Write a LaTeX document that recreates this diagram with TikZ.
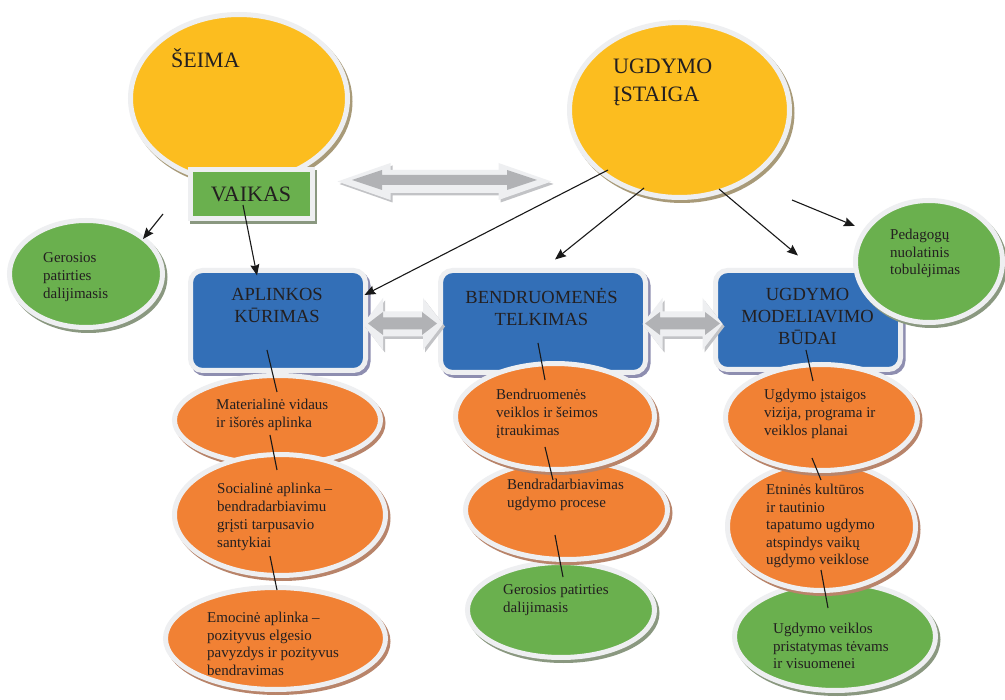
\documentclass[tikz,border=0pt]{standalone}
\usepackage{fontspec}
\setmainfont{Liberation Serif}
\usetikzlibrary{shapes.geometric,arrows.meta}
\definecolor{ylw}{HTML}{FCBD1F}
\definecolor{orng}{HTML}{F18134}
\definecolor{grn}{HTML}{6AB04E}
\definecolor{blu}{HTML}{336FB7}
\definecolor{bordc}{HTML}{EEEFF1}
\definecolor{arrg}{HTML}{B1B2B5}
\definecolor{txtc}{HTML}{231F20}
\definecolor{shy}{HTML}{A89A78}
\definecolor{sho}{HTML}{B8846A}
\definecolor{shg}{HTML}{8A9880}
\definecolor{shb}{HTML}{8E8EB0}
\definecolor{sha}{HTML}{C2C3C6}
\newcommand\myDA[7]{%
  \path[#1] (#2-#4,#3) -- (#2-#4+#7,#3-#6) -- (#2-#4+#7,#3-#5) -- (#2+#4-#7,#3-#5)
    -- (#2+#4-#7,#3-#6) -- (#2+#4,#3) -- (#2+#4-#7,#3+#6) -- (#2+#4-#7,#3+#5)
    -- (#2-#4+#7,#3+#5) -- (#2-#4+#7,#3+#6) -- cycle;}
\begin{document}
\begin{tikzpicture}[x=1pt,y=-1pt,
  bord/.style={draw=bordc, line width=5pt},
  shad/.style={preaction={fill=#1, draw=#1, line width=5pt, transform canvas={shift={(2.5pt,-3pt)}}}},
  ell/.style={ellipse, inner sep=0pt, bord},
  bigell/.style={ell, fill=ylw, shad=shy},
  orell/.style={ell, fill=orng, shad=sho},
  grell/.style={ell, fill=grn, shad=shg},
  bbox/.style={rectangle, rounded corners=12pt, fill=blu, bord, shad=shb, inner sep=0pt},
  txt/.style={anchor=north west, yshift=9pt, execute at begin node={\rule{0pt}{13pt}}, align=left, inner sep=0pt, font=\fontsize{15}{18}\selectfont, text=txtc},
  btxt/.style={anchor=north, yshift=13pt, execute at begin node={\rule{0pt}{18pt}}, align=center, inner sep=0pt, font=\fontsize{18.5}{22}\selectfont, text=txtc},
  bigtxt/.style={anchor=north west, yshift=21pt, execute at begin node={\rule{0pt}{21pt}}, align=left, inner sep=0pt, font=\fontsize{22}{28}\selectfont, text=txtc},
  conn/.style={line width=1.1pt, draw=black!90},
  arr/.style={conn, -{Stealth[length=11pt,width=9pt,inset=1.5pt]}}
]
\useasboundingbox (0,0) rectangle (1005,700);
\fill[white] (0,0) rectangle (1005,700);

% top ellipses
\node[bigell, minimum width=217pt, minimum height=168pt] (seima) at (239,98.5) {};
\node[bigell, minimum width=220pt, minimum height=175pt] (ugd) at (679.5,110) {};

% VAIKAS
\node[rectangle, fill=grn, bord, shad=shg, minimum width=122pt, minimum height=49pt, inner sep=0pt,
      font=\fontsize{22}{26}\selectfont, text=txtc] (vaikas) at (251,194.5) {VAIKAS};

% big double arrow
\myDA{fill=bordc, preaction={fill=sha, transform canvas={shift={(2pt,-2.5pt)}}}}{444.5}{181.5}{107}{11.5}{18.5}{53}
\myDA{fill=arrg}{444.5}{180}{92.5}{5}{10}{30}

% green side ellipse
\node[grell, minimum width=153pt, minimum height=107pt] (ger) at (86,274) {};

% blue boxes
\node[bbox, minimum width=175pt, minimum height=100pt] (apl) at (278,320.5) {};
\node[bbox, minimum width=205pt, minimum height=102pt] (ben) at (543,321.5) {};
\node[bbox, minimum width=185pt, minimum height=99pt] (umb) at (808,320) {};

% small double arrows
\myDA{fill=bordc, preaction={fill=sha, transform canvas={shift={(2pt,-2.5pt)}}}}{403}{324}{40}{12.5}{26}{20}
\myDA{fill=arrg}{402.5}{323.5}{34.5}{6}{11.5}{15}
\myDA{fill=bordc, preaction={fill=sha, transform canvas={shift={(2pt,-2.5pt)}}}}{682.5}{324}{40}{12.5}{26}{20}
\myDA{fill=arrg}{682.5}{323.5}{37.5}{6}{11.5}{15}

% Pedagogu
\node[grell, minimum width=147pt, minimum height=122pt] (ped) at (929,261.5) {};

% column 1
\node[orell, minimum width=206pt, minimum height=89pt] (e1) at (277.5,420) {};
\node[orell, minimum width=211pt, minimum height=121pt] (e2) at (280,515) {};
\node[orell, minimum width=220pt, minimum height=102pt] (e3) at (275.5,638.5) {};

% column 2 (lower drawn first)
\node[grell, minimum width=187pt, minimum height=95pt] (b3) at (561,610) {};
\node[orell, minimum width=202pt, minimum height=99pt] (b2) at (566.5,510) {};
\node[orell, minimum width=199pt, minimum height=106pt] (b1) at (555,416.5) {};

% column 3 (lower drawn first)
\node[grell, minimum width=201pt, minimum height=108pt] (c3) at (835,636.5) {};
\node[orell, minimum width=188pt, minimum height=128pt] (c2) at (821.5,526.5) {};
\node[orell, minimum width=192pt, minimum height=106pt] (c1) at (821.5,417.5) {};

% texts
\node[bigtxt] (seimat) at (171,67) {ŠEIMA};
\node[bigtxt] (ugdt) at (613,80) {UGDYMO\\ĮSTAIGA};
\node[txt] (gert) at (43,261) {Gerosios\\patirties\\dalijimasis};
\node[btxt] (aplt) at (277,301) {APLINKOS\\KŪRIMAS};
\node[btxt] (bent) at (541.5,301) {BENDRUOMENĖS\\TELKIMAS};
\node[btxt] (umbt) at (807.5,301) {UGDYMO\\MODELIAVIMO\\BŪDAI};
\node[txt, font=\fontsize{15}{17.5}\selectfont] (pedt) at (890,238) {Pedagogų\\nuolatinis\\tobulėjimas};
\node[txt] (e1t) at (216,408) {Materialinė vidaus\\ir išorės aplinka};
\node[txt] (e2t) at (217,492) {Socialinė aplinka –\\bendradarbiavimu\\grįsti tarpusavio\\santykiai};
\node[txt, font=\fontsize{15}{17.5}\selectfont] (e3t) at (207,621) {Emocinė aplinka –\\pozityvus elgesio\\pavyzdys ir pozityvus\\bendravimas};
\node[txt] (b1t) at (496,398) {Bendruomenės\\veiklos ir šeimos\\įtraukimas};
\node[txt] (b2t) at (507,488) {Bendradarbiavimas\\ugdymo procese};
\node[txt] (b3t) at (503,593) {Gerosios patirties\\dalijimasis};
\node[txt] (c1t) at (764,398) {Ugdymo įstaigos\\vizija, programa ir\\veiklos planai};
\node[txt, font=\fontsize{15}{17.5}\selectfont] (c2t) at (766,493) {Etninės kultūros\\ir tautinio\\tapatumo ugdymo\\atspindys vaikų\\ugdymo veiklose};
\node[txt, font=\fontsize{15}{17.5}\selectfont] (c3t) at (773,632) {Ugdymo veiklos\\pristatymas tėvams\\ir visuomenei};

% arrows
\coordinate (fa1) at (163,214);
\coordinate (fa2) at (792,200);
\draw[arr] ([shift={(-8,10.5)}]vaikas.center) -- ([shift={(-21,7.5)}]apl.north);
\draw[arr] ([shift={(-71.5,60)}]ugd.center) -- ([shift={(-3.5,-25.5)}]apl.east);
\draw[arr] ([shift={(-35.5,78)}]ugd.center) -- ([shift={(12,-8.5)}]ben.north);
\draw[arr] ([shift={(39.5,79)}]ugd.center) -- ([shift={(-10,-12.5)}]umb.north);
\draw[arr] (fa2) -- ([shift={(-74,-35.5)}]ped.center);
\draw[arr] (fa1) -- ([shift={(57,-35)}]ger.center);

% column connectors
\draw[conn] ([shift={(-11,29.5)}]apl.center) -- ([shift={(-0.5,-28)}]e1.center);
\draw[conn] ([shift={(-7.5,15)}]e1.center) -- ([shift={(-3,-45)}]e2.center);
\draw[conn] ([shift={(-10,41)}]e2.center) -- ([shift={(1.5,-48.5)}]e3.center);
\draw[conn] ([shift={(-5,21.5)}]ben.center) -- ([shift={(-10,-36.5)}]b1.center);
\draw[conn] ([shift={(-10,30.5)}]b1.center) -- ([shift={(-13.5,-30)}]b2.center);
\draw[conn] ([shift={(-11.5,25)}]b2.center) -- ([shift={(2,-33)}]b3.center);
\draw[conn] ([shift={(-2,30)}]umb.center) -- ([shift={(-8.5,-36.5)}]c1.center);
\draw[conn] ([shift={(-9.5,40.5)}]c1.center) -- ([shift={(-0.5,-46.5)}]c2.center);
\draw[conn] ([shift={(-0.5,43.5)}]c2.center) -- ([shift={(-7,-28.5)}]c3.center);
\end{tikzpicture}
\end{document}
